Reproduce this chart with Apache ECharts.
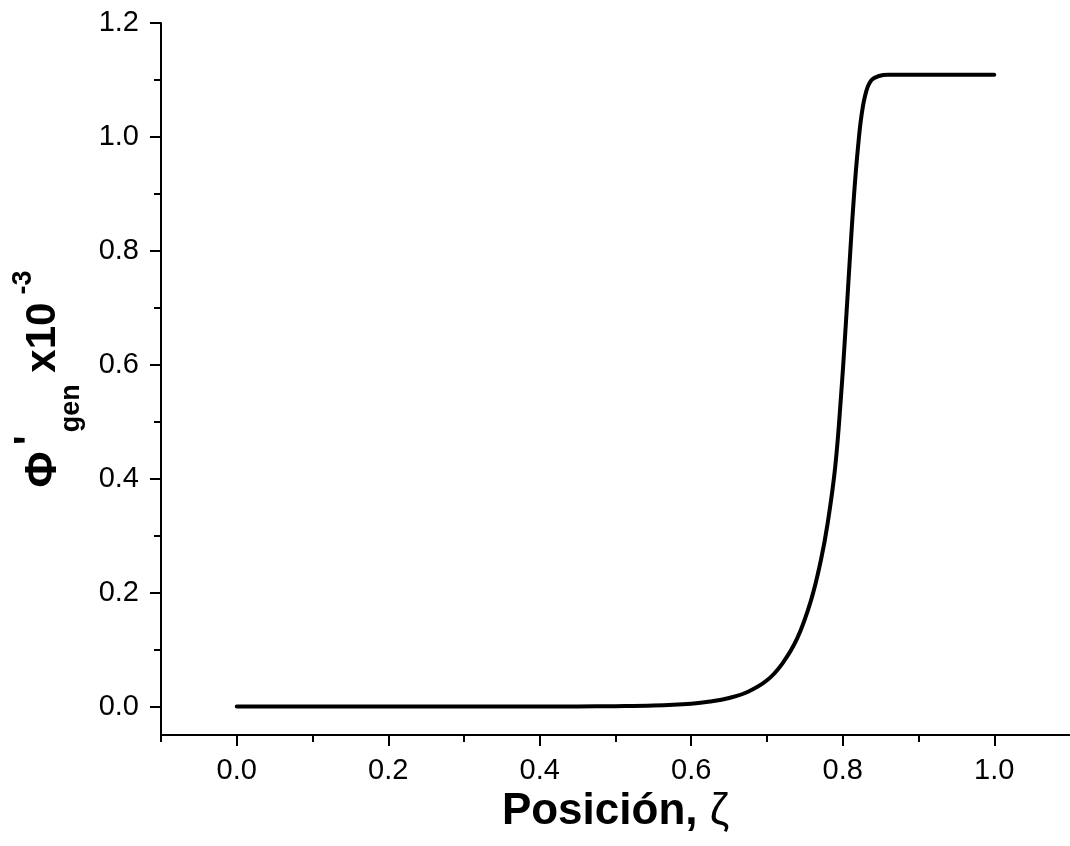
<!DOCTYPE html>
<html>
<head>
<meta charset="utf-8">
<script src="https://cdn.jsdelivr.net/npm/echarts/dist/echarts.min.js"></script>
<style>
body{
	margin:0;
	background-color:#ffffff;
}
#chart{
	width:1070px;
	height:846px;
}
</style>
</head>
<body>
<div id="chart"></div>
<script type="text/javascript">
// datos
var posicion = [0, 0.1, 0.2, 0.3, 0.4, 0.45, 0.5, 0.55, 0.6, 0.625, 0.65, 0.675, 0.7, 0.72, 0.74, 0.758, 0.771, 0.78, 0.79, 0.798, 0.804, 0.81, 0.815, 0.82, 0.825, 0.831, 0.838, 0.848, 0.86, 0.9, 1.0];
var phiGen   = [0, 0, 0, 0, 0, 0.0002, 0.0006, 0.0017, 0.005, 0.0087, 0.015, 0.026, 0.046, 0.075, 0.12, 0.186, 0.256, 0.321, 0.42, 0.55, 0.67, 0.80, 0.90, 0.98, 1.04, 1.08, 1.10, 1.107, 1.109, 1.109, 1.109];

var xMajor = [0, 0.2, 0.4, 0.6, 0.8, 1.0];
var xMinor = [-0.1, 0.1, 0.3, 0.5, 0.7, 0.9];
var yMajor = [0, 0.2, 0.4, 0.6, 0.8, 1.0, 1.2];
var yMinor = [0.1, 0.3, 0.5, 0.7, 0.9, 1.1];

var font = "'Liberation Sans', Arial, sans-serif";

function fmt(v){
	return v.toFixed(1);
}

var serie = [];
for (var i = 0; i < posicion.length; i++) {
	serie.push([posicion[i], phiGen[i]]);
}

var chart = echarts.init(document.getElementById('chart'));
chart.setOption({
	animation: false,
	grid: {
		left: 161,
		right: -3,
		top: 23,
		bottom: 111
	},
	xAxis: [{
		type: 'value',
		min: -0.1,
		max: 1.1,
		position: 'bottom',
		splitLine: {show: false},
		axisLine: {onZero: false, lineStyle: {color: '#000', width: 2}},
		axisTick: {
			customValues: xMajor,
			length: 11,
			lineStyle: {color: '#000', width: 2}
		},
		axisLabel: {
			customValues: xMajor,
			formatter: fmt,
			margin: 21,
			color: '#000',
			fontFamily: font,
			fontSize: 29
		},
		name: '{b|Posición, }{z|ζ}',
		nameLocation: 'middle',
		nameGap: 52,
		nameTextStyle: {
			rich: {
				b: {fontFamily: font, fontWeight: 'bold', fontSize: 44, color: '#000'},
				z: {fontFamily: font, fontSize: 44, color: '#000'}
			}
		}
	}, {
		type: 'value',
		min: -0.1,
		max: 1.1,
		position: 'bottom',
		splitLine: {show: false},
		axisLine: {show: false, onZero: false},
		axisTick: {
			customValues: xMinor,
			length: 7,
			lineStyle: {color: '#000', width: 2}
		},
		axisLabel: {show: false}
	}],
	yAxis: [{
		type: 'value',
		min: -0.05,
		max: 1.2,
		position: 'left',
		splitLine: {show: false},
		axisLine: {onZero: false, lineStyle: {color: '#000', width: 2}},
		axisTick: {
			customValues: yMajor,
			length: 11,
			lineStyle: {color: '#000', width: 2}
		},
		axisLabel: {
			customValues: yMajor,
			formatter: fmt,
			margin: 22,
			color: '#000',
			fontFamily: font,
			fontSize: 29
		},
		name: '{phi|Φ}{pr|\'}{sub|gen}{b| x10}{sup|-3}',
		nameLocation: 'middle',
		nameGap: 76,
		nameTextStyle: {
			rich: {
				phi: {fontFamily: font, fontWeight: 'bold', fontSize: 44, color: '#000'},
				pr: {fontFamily: font, fontWeight: 'bold', fontSize: 42, color: '#000', padding: [0, 3, 24, 6]},
				sub: {fontFamily: font, fontWeight: 'bold', fontSize: 27, color: '#000', padding: [56, 0, 0, 0]},
				b: {fontFamily: font, fontWeight: 'bold', fontSize: 42, color: '#000'},
				sup: {fontFamily: font, fontWeight: 'bold', fontSize: 27, color: '#000', padding: [0, 0, 40, 8]}
			}
		}
	}, {
		type: 'value',
		min: -0.05,
		max: 1.2,
		position: 'left',
		splitLine: {show: false},
		axisLine: {show: false, onZero: false},
		axisTick: {
			customValues: yMinor,
			length: 7,
			lineStyle: {color: '#000', width: 2}
		},
		axisLabel: {show: false}
	}],
	series: [{
		type: 'line',
		data: serie,
		smooth: 0.4,
		showSymbol: false,
		symbol: 'none',
		lineStyle: {color: '#000', width: 4, cap: 'round', join: 'round'}
	}]
});
</script>
</body>
</html>
